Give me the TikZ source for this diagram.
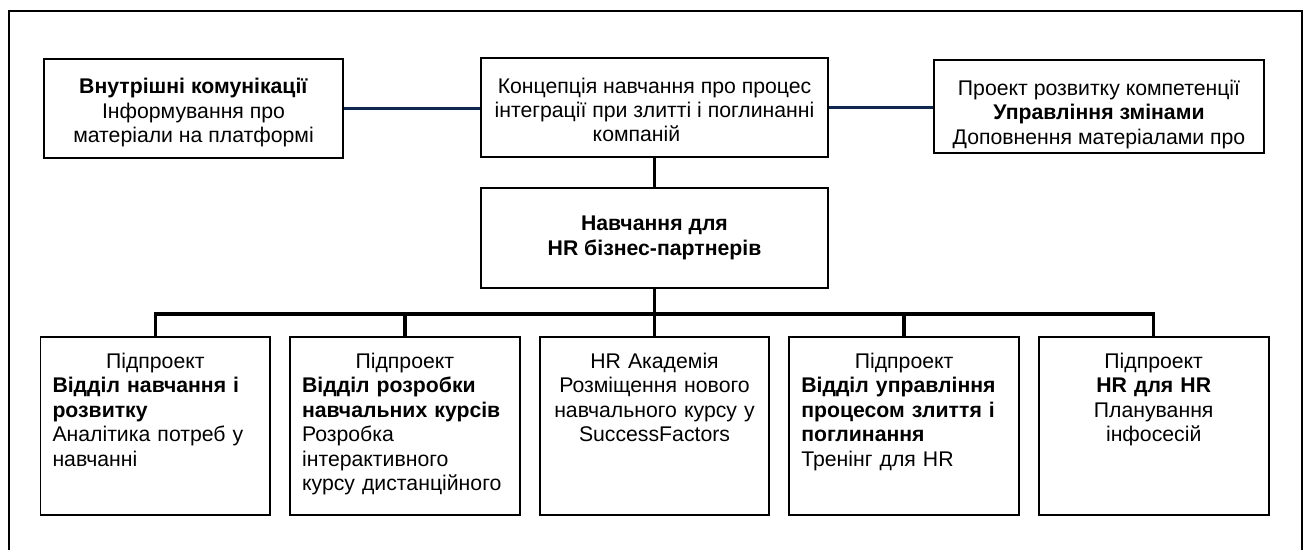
\documentclass[tikz,border=0pt]{standalone}
\usepackage{fontspec}
\setmainfont{Liberation Sans}

\definecolor{linkblue}{RGB}{16,40,78}

\begin{document}
\begin{tikzpicture}[
    box/.style={draw, line width=1.4pt, inner sep=0pt},
    boxtext/.style={align=center, inner sep=0pt, font=\fontsize{15.1}{17.4}\selectfont},
    subbox/.style={draw, line width=1.4pt, minimum width=5.74cm, minimum height=4.45cm},
    subtext/.style={anchor=north, text width=5.14cm, inner xsep=0pt, inner ysep=0.42cm, font=\fontsize{15.1}{17.4}\selectfont},
    subleft/.style={subtext, align=left},
    submid/.style={subtext, align=center},
    link/.style={linkblue, line width=2.8pt},
    tree/.style={line width=2.5pt},
  ]
    \useasboundingbox (0,0) rectangle (32.675,13.75);
    \draw[line width=2.1pt] (0.225,0) -- (0.225,13.475) -- (32.55,13.475) -- (32.55,0);

    \node[box, minimum width=7.475cm, minimum height=2.475cm] (comm) at (4.8375,11.0375) {};
    \node[boxtext] (commtext) at ([yshift=-0.11cm]comm.center)
      {\textbf{Внутрішні комунікації}\\Інформування про\\матеріали на платформі};
    \node[box, minimum width=8.675cm, minimum height=2.475cm] (concept) at (16.3625,11.0625) {};
    \node[boxtext] (concepttext) at ([yshift=-0.06cm]concept.center)
      {Концепція навчання про процес\\інтеграції при злитті і поглинанні\\компаній\hspace*{0.9cm}};
    \node[box, minimum width=8.25cm, minimum height=2.325cm] (change) at (27.475,11.0875) {};
    \node[boxtext] (changetext) at ([yshift=-0.2cm]change.center)
      {Проект розвитку компетенції\\\textbf{Управління змінами}\\Доповнення матеріалами про};
    \node[box, minimum width=8.675cm, minimum height=2.5cm] (hrbp) at (16.3625,7.8) {};
    \node[boxtext] (hrbptext) at (hrbp.center)
      {\textbf{Навчання для}\\\textbf{HR бізнес-партнерів}};

    \node[subbox] (s1) at (3.8825,3.1) {};
    \node[subbox] (s2) at (10.1225,3.1) {};
    \node[subbox] (s3) at (16.3625,3.1) {};
    \node[subbox] (s4) at (22.6025,3.1) {};
    \node[subbox] (s5) at (28.8425,3.1) {};

    \node[subleft] (t1) at (s1.north)
      {{\centering Підпроект\par}\textbf{Відділ навчання і}\\\textbf{розвитку}\\Аналітика потреб у\\навчанні};
    \node[subleft] (t2) at (s2.north)
      {{\centering Підпроект\par}\textbf{Відділ розробки}\\\textbf{навчальних курсів}\\Розробка\\інтерактивного\\курсу дистанційного};
    \node[submid] (t3) at (s3.north)
      {HR Академія\\Розміщення нового\\навчального курсу у\\SuccessFactors};
    \node[subleft] (t4) at (s4.north)
      {{\centering Підпроект\par}\textbf{Відділ управління}\\\textbf{процесом злиття і}\\\textbf{поглинання}\\Тренінг для HR};
    \node[submid] (t5) at (s5.north)
      {Підпроект\\\textbf{HR для HR}\\Планування\\інфосесій};

    \draw[link] (comm.east) -- (comm.east -| concept.west);
    \draw[link] (concept.east) -- (concept.east -| change.west);
    \draw[tree] (concept.south) -- (hrbp.north);
    \foreach \s in {s1,s2,s3,s4,s5}
      \draw[tree] (hrbp.south) -- ++(0,-0.625) -| (\s.north);
\end{tikzpicture}
\end{document}
